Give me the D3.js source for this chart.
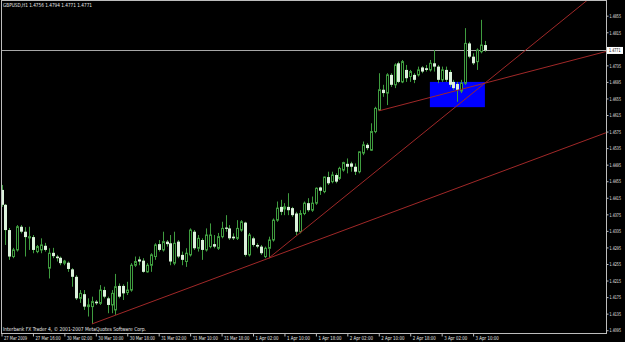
<!DOCTYPE html>
<html>
<head>
<meta charset="utf-8">
<script src="https://cdn.jsdelivr.net/npm/d3@7"></script>
<style>
  html, body { margin: 0; padding: 0; background: #000; }
  svg { display: block; }
  text { font-family: "Liberation Sans Narrow", "DejaVu Sans Condensed", "Liberation Sans", sans-serif; font-size: 5.5px; fill: #e6e6e6; }
  .price-scale text, .bid-tag text { font-size: 5px; }
</style>
</head>
<body>
<svg id="chart" width="625" height="342"></svg>
<script>
'use strict';

var symbolTitle = 'GBPUSD,H1  1.4756 1.4794 1.4771 1.4771',
    copyrightText = 'Interbank FX Trader 4, \u00a9 2001-2007 MetaQuotes Software Corp.',
    bidPrice = 1.4771;

// right scale, a label every 40 pips
var priceTicks = [1.4855, 1.4815, 1.4775, 1.4735, 1.4695, 1.4655, 1.4615, 1.4575, 1.4535, 1.4495,
    1.4455, 1.4415, 1.4375, 1.4335, 1.4295, 1.4255, 1.4215, 1.4175, 1.4135, 1.4095];

// bottom scale, a label every 8 bars
var barsPerLabel = 8;
var timeLabels = ['27 Mar 2009', '27 Mar 16:00', '30 Mar 02:00', '30 Mar 10:00', '30 Mar 18:00',
    '31 Mar 02:00', '31 Mar 10:00', '31 Mar 18:00', '1 Apr 02:00', '1 Apr 10:00', '1 Apr 18:00',
    '2 Apr 02:00', '2 Apr 10:00', '2 Apr 18:00', '3 Apr 02:00', '3 Apr 10:00'];

// H1 bars: open, high, low, close
var bars = [
    [1.4434, 1.4446, 1.4393, 1.4398], [1.4398, 1.4400, 1.4301, 1.4337], [1.4337, 1.4342, 1.4265, 1.4273],
    [1.4273, 1.4294, 1.4269, 1.4289], [1.4289, 1.4349, 1.4285, 1.4345], [1.4345, 1.4349, 1.4329, 1.4333],
    [1.4333, 1.4344, 1.4273, 1.4320], [1.4318, 1.4345, 1.4289, 1.4321], [1.4320, 1.4325, 1.4281, 1.4289],
    [1.4285, 1.4301, 1.4281, 1.4297], [1.4289, 1.4317, 1.4281, 1.4301], [1.4299, 1.4306, 1.4285, 1.4289],
    [1.4245, 1.4293, 1.4220, 1.4281], [1.4282, 1.4294, 1.4269, 1.4274], [1.4273, 1.4277, 1.4261, 1.4269],
    [1.4270, 1.4273, 1.4252, 1.4257], [1.4257, 1.4265, 1.4252, 1.4262], [1.4258, 1.4261, 1.4236, 1.4243],
    [1.4242, 1.4245, 1.4200, 1.4224], [1.4224, 1.4228, 1.4168, 1.4172], [1.4172, 1.4192, 1.4161, 1.4184],
    [1.4182, 1.4192, 1.4144, 1.4152], [1.4152, 1.4172, 1.4128, 1.4156], [1.4152, 1.4176, 1.4110, 1.4164],
    [1.4164, 1.4168, 1.4156, 1.4160], [1.4160, 1.4204, 1.4156, 1.4192], [1.4192, 1.4200, 1.4172, 1.4176],
    [1.4172, 1.4176, 1.4136, 1.4156], [1.4156, 1.4192, 1.4136, 1.4184], [1.4144, 1.4231, 1.4132, 1.4200],
    [1.4202, 1.4208, 1.4172, 1.4176], [1.4202, 1.4206, 1.4168, 1.4184], [1.4186, 1.4212, 1.4180, 1.4192],
    [1.4192, 1.4257, 1.4188, 1.4252], [1.4252, 1.4273, 1.4248, 1.4261], [1.4266, 1.4273, 1.4252, 1.4261],
    [1.4263, 1.4269, 1.4234, 1.4236], [1.4236, 1.4257, 1.4234, 1.4252], [1.4252, 1.4281, 1.4236, 1.4277],
    [1.4273, 1.4305, 1.4265, 1.4301], [1.4303, 1.4313, 1.4285, 1.4289], [1.4289, 1.4333, 1.4285, 1.4309],
    [1.4309, 1.4313, 1.4297, 1.4303], [1.4305, 1.4325, 1.4252, 1.4261], [1.4257, 1.4333, 1.4252, 1.4305],
    [1.4309, 1.4313, 1.4269, 1.4273], [1.4277, 1.4285, 1.4252, 1.4265], [1.4261, 1.4293, 1.4248, 1.4281],
    [1.4277, 1.4341, 1.4273, 1.4337], [1.4333, 1.4337, 1.4289, 1.4293], [1.4293, 1.4325, 1.4285, 1.4317],
    [1.4313, 1.4317, 1.4265, 1.4289], [1.4289, 1.4341, 1.4285, 1.4325], [1.4297, 1.4353, 1.4293, 1.4325],
    [1.4303, 1.4325, 1.4293, 1.4297], [1.4293, 1.4330, 1.4289, 1.4321], [1.4321, 1.4357, 1.4317, 1.4341],
    [1.4343, 1.4373, 1.4333, 1.4340], [1.4341, 1.4349, 1.4313, 1.4317], [1.4321, 1.4329, 1.4313, 1.4317],
    [1.4317, 1.4361, 1.4313, 1.4341], [1.4337, 1.4361, 1.4333, 1.4357], [1.4355, 1.4357, 1.4273, 1.4277],
    [1.4277, 1.4330, 1.4273, 1.4325], [1.4317, 1.4321, 1.4297, 1.4301], [1.4301, 1.4305, 1.4293, 1.4297],
    [1.4297, 1.4301, 1.4277, 1.4281], [1.4273, 1.4297, 1.4269, 1.4293], [1.4293, 1.4321, 1.4269, 1.4313],
    [1.4313, 1.4365, 1.4309, 1.4361], [1.4361, 1.4406, 1.4357, 1.4390], [1.4393, 1.4410, 1.4373, 1.4381],
    [1.4388, 1.4402, 1.4373, 1.4393], [1.4393, 1.4426, 1.4373, 1.4385], [1.4390, 1.4393, 1.4369, 1.4373],
    [1.4377, 1.4381, 1.4325, 1.4333], [1.4333, 1.4385, 1.4329, 1.4377], [1.4377, 1.4406, 1.4373, 1.4402],
    [1.4402, 1.4414, 1.4381, 1.4385], [1.4385, 1.4418, 1.4381, 1.4402], [1.4402, 1.4440, 1.4398, 1.4438],
    [1.4440, 1.4442, 1.4422, 1.4432], [1.4430, 1.4466, 1.4426, 1.4465], [1.4465, 1.4478, 1.4446, 1.4450],
    [1.4454, 1.4478, 1.4450, 1.4470], [1.4470, 1.4474, 1.4450, 1.4454], [1.4462, 1.4490, 1.4458, 1.4486],
    [1.4482, 1.4502, 1.4478, 1.4500], [1.4497, 1.4510, 1.4474, 1.4490], [1.4498, 1.4502, 1.4478, 1.4490],
    [1.4490, 1.4498, 1.4470, 1.4478], [1.4478, 1.4527, 1.4474, 1.4526], [1.4523, 1.4551, 1.4518, 1.4543],
    [1.4543, 1.4547, 1.4530, 1.4535], [1.4530, 1.4595, 1.4528, 1.4575], [1.4575, 1.4635, 1.4571, 1.4631],
    [1.4627, 1.4716, 1.4625, 1.4676], [1.4676, 1.4688, 1.4659, 1.4668], [1.4668, 1.4716, 1.4639, 1.4712],
    [1.4712, 1.4716, 1.4683, 1.4688], [1.4688, 1.4740, 1.4680, 1.4736], [1.4740, 1.4744, 1.4692, 1.4695],
    [1.4695, 1.4748, 1.4692, 1.4744], [1.4724, 1.4736, 1.4695, 1.4704], [1.4708, 1.4724, 1.4695, 1.4720],
    [1.4712, 1.4716, 1.4692, 1.4700], [1.4712, 1.4732, 1.4708, 1.4724], [1.4730, 1.4733, 1.4716, 1.4720],
    [1.4728, 1.4736, 1.4720, 1.4724], [1.4724, 1.4748, 1.4720, 1.4740], [1.4740, 1.4772, 1.4720, 1.4732],
    [1.4732, 1.4736, 1.4692, 1.4700], [1.4700, 1.4732, 1.4695, 1.4724], [1.4724, 1.4732, 1.4695, 1.4700],
    [1.4719, 1.4724, 1.4683, 1.4688], [1.4695, 1.4700, 1.4676, 1.4680], [1.4690, 1.4695, 1.4647, 1.4676],
    [1.4673, 1.4700, 1.4668, 1.4692], [1.4692, 1.4825, 1.4688, 1.4788], [1.4788, 1.4792, 1.4752, 1.4756],
    [1.4756, 1.4764, 1.4736, 1.4740], [1.4744, 1.4776, 1.4724, 1.4772], [1.4768, 1.4845, 1.4764, 1.4784],
    [1.4784, 1.4794, 1.4768, 1.4771]
];

// trend lines (rays), each from [bar, price] through [bar, price]
var trendLines = [
    [[23, 1.4110], [68, 1.4269]],
    [[68, 1.4269], [123, 1.4692]],
    [[96, 1.4625], [123, 1.4692]]
];

// blue rectangle object
var zoneBars = [109, 123],
    zonePrices = [1.4695, 1.4634];


var width = 625,
    height = 342,
    plot = { left: 1.5, right: 606.5, top: 0.5, bottom: 333.5 },
    frameColor = '#bdbdbd',
    bidColor = '#a8a8a8',
    candleColor = '#3f9c3f',
    bearFill = '#dcf2dc',
    lineColor = '#a02828';

var svg = d3.select('#chart');

var x = d3.scaleLinear()
    .domain([0, bars.length - 1])
    .range([1.5, 1.5 + 3.93 * (bars.length - 1)]);

var y = d3.scaleLinear()
    .domain([1.4095, 1.4855])
    .range([330.2, 15.7]);

svg.append('rect')
    .attr('width', width)
    .attr('height', height)
    .attr('fill', '#000');

svg.append('clipPath')
    .attr('id', 'plot-clip')
    .append('rect')
    .attr('x', plot.left)
    .attr('y', plot.top)
    .attr('width', plot.right - plot.left)
    .attr('height', plot.bottom - plot.top);

var inner = svg.append('g').attr('clip-path', 'url(#plot-clip)');

// rectangle sits behind the bars
inner.append('rect')
    .attr('x', x(zoneBars[0]))
    .attr('y', y(zonePrices[0]))
    .attr('width', x(zoneBars[1]) - x(zoneBars[0]))
    .attr('height', y(zonePrices[1]) - y(zonePrices[0]))
    .attr('fill', '#0000ff');

// bid line
inner.append('line')
    .attr('x1', plot.left)
    .attr('x2', plot.right)
    .attr('y1', Math.round(y(bidPrice)) + 0.5)
    .attr('y2', Math.round(y(bidPrice)) + 0.5)
    .attr('stroke', bidColor);

function isBull(d) {
    return d[3] >= d[0];
}

var candles = inner.append('g')
    .selectAll('g')
    .data(bars)
    .enter().append('g')
    .attr('transform', function(d, i) { return 'translate(' + Math.round(x(i)) + ',0)'; });

candles.append('line')
    .attr('x1', 0.5)
    .attr('x2', 0.5)
    .attr('y1', function(d) { return y(d[1]); })
    .attr('y2', function(d) { return y(d[2]); })
    .attr('stroke', candleColor);

candles.append('rect')
    .attr('x', function(d) { return isBull(d) ? -0.5 : -1; })
    .attr('width', function(d) { return isBull(d) ? 2 : 3; })
    .attr('y', function(d) { return y(Math.max(d[0], d[3])); })
    .attr('height', function(d) {
        return Math.max(1, y(Math.min(d[0], d[3])) - y(Math.max(d[0], d[3])));
    })
    .attr('fill', function(d) { return isBull(d) ? '#000' : bearFill; })
    .attr('stroke', function(d) { return isBull(d) ? candleColor : 'none'; });

// rays run on to the edge of the chart
var lastBar = x.invert(plot.right);
inner.selectAll('line.trend')
    .data(trendLines)
    .enter().append('line')
    .attr('class', 'trend')
    .attr('x1', function(d) { return x(d[0][0]); })
    .attr('y1', function(d) { return y(d[0][1]); })
    .attr('x2', x(lastBar))
    .attr('y2', function(d) {
        var slope = (d[1][1] - d[0][1]) / (d[1][0] - d[0][0]);
        return y(d[0][1] + slope * (lastBar - d[0][0]));
    })
    .attr('stroke', lineColor)
    .attr('stroke-width', 1);

// frame
svg.append('rect')
    .attr('x', plot.left)
    .attr('y', plot.top)
    .attr('width', plot.right - plot.left)
    .attr('height', plot.bottom - plot.top)
    .attr('fill', 'none')
    .attr('stroke', frameColor);

// price scale
var yAxis = svg.append('g')
    .attr('class', 'price-scale')
    .attr('transform', 'translate(' + plot.right + ',0)')
    .call(d3.axisRight(y)
        .tickValues(priceTicks)
        .tickSize(2)
        .tickPadding(1)
        .tickFormat(d3.format('.4f')));
yAxis.select('.domain').remove();
yAxis.selectAll('line').attr('stroke', frameColor);
yAxis.selectAll('text')
    .attr('dy', '0.35em')
    .attr('font-size', null)
    .attr('font-family', null)
    .attr('fill', null)
    .attr('textLength', 11.5)
    .attr('lengthAdjust', 'spacingAndGlyphs');

// time scale
var xAxis = svg.append('g')
    .attr('transform', 'translate(0,' + plot.bottom + ')')
    .call(d3.axisBottom(x)
        .tickValues(timeLabels.map(function(d, i) { return i * barsPerLabel; }))
        .tickSize(3)
        .tickFormat(function(d, i) { return timeLabels[i]; }));
xAxis.select('.domain').remove();
xAxis.selectAll('line').attr('stroke', frameColor);
xAxis.selectAll('text')
    .attr('text-anchor', 'start')
    .attr('x', 2)
    .attr('y', 6)
    .attr('dy', 0)
    .attr('font-size', null)
    .attr('font-family', null)
    .attr('fill', null)
    .attr('textLength', function(d, i) { return timeLabels[i].length * 2.1; })
    .attr('lengthAdjust', 'spacingAndGlyphs');

// bid price tag
var tag = svg.append('g')
    .attr('class', 'bid-tag')
    .attr('transform', 'translate(' + plot.right + ',' + y(bidPrice) + ')');
tag.append('rect')
    .attr('x', 0.5)
    .attr('y', -3.5)
    .attr('width', 16)
    .attr('height', 7)
    .attr('fill', '#fff');
tag.append('text')
    .attr('x', 2.5)
    .attr('dy', '0.35em')
    .attr('textLength', 11.5)
    .attr('lengthAdjust', 'spacingAndGlyphs')
    .style('fill', '#000')
    .text(d3.format('.4f')(bidPrice));

// title and copyright
svg.append('text')
    .attr('x', 3)
    .attr('y', 7)
    .attr('textLength', 89)
    .attr('lengthAdjust', 'spacingAndGlyphs')
    .text(symbolTitle);

svg.append('text')
    .attr('x', 3)
    .attr('y', 330.5)
    .attr('textLength', 143)
    .attr('lengthAdjust', 'spacingAndGlyphs')
    .text(copyrightText);
</script>
</body>
</html>
